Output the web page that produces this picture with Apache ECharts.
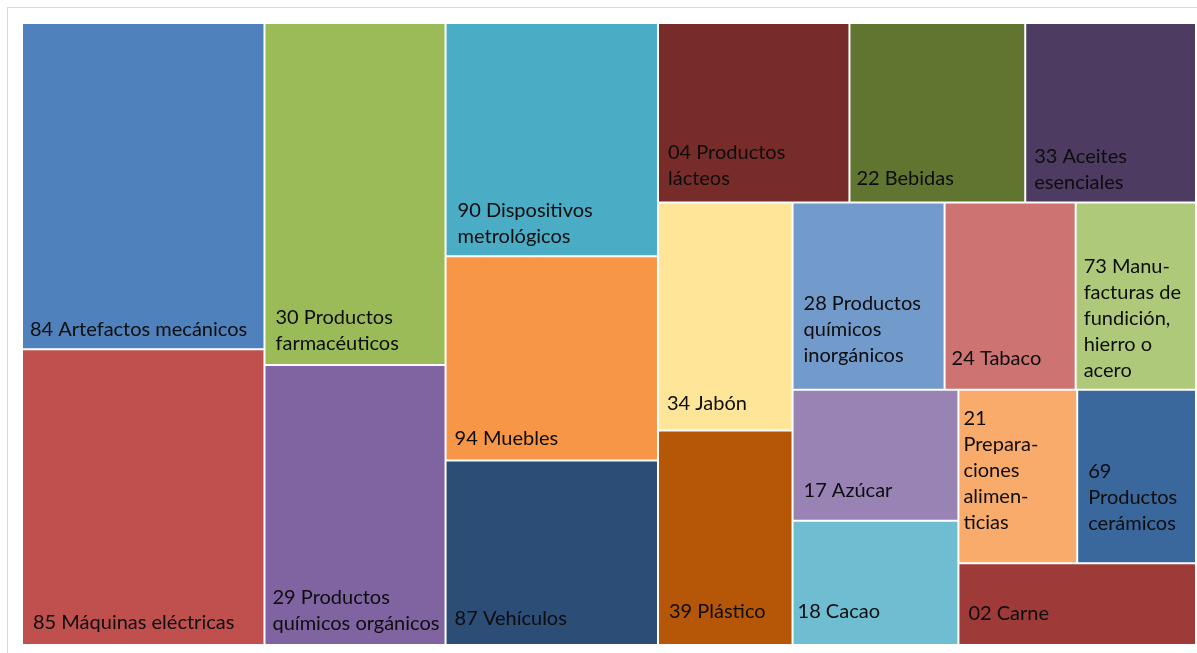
<!DOCTYPE html>
<html>
<head>
<meta charset="utf-8">
<script src="https://cdn.jsdelivr.net/npm/echarts@6/dist/echarts.min.js"></script>
<style>
  html, body { margin: 0; padding: 0; background: #fff; overflow: hidden; }
  #frame { position: absolute; left: 7px; top: 7px; width: 1300px; height: 700px; border: 1px solid #d9d9d9; }
  #chart { position: absolute; left: 0; top: 0; width: 1197px; height: 653px; }
</style>
</head>
<body>
<div id="frame"></div>
<div id="chart"></div>
<script>
// categories (label text wrapped as in the original)
const labels = [
  '84 Artefactos mecánicos',
  '85 Máquinas eléctricas',
  '30 Productos\nfarmacéuticos',
  '29 Productos\nquímicos orgánicos',
  '90 Dispositivos\nmetrológicos',
  '94 Muebles',
  '87 Vehículos',
  '04 Productos\nlácteos',
  '22 Bebidas',
  '33 Aceites\nesenciales',
  '34 Jabón',
  '39 Plástico',
  '28 Productos\nquímicos\ninorgánicos',
  '24 Tabaco',
  '73 Manu-\nfacturas de\nfundición,\nhierro o\nacero',
  '17 Azúcar',
  '18 Cacao',
  '21\nPrepara-\nciones\nalimen-\nticias',
  '69\nProductos\ncerámicos',
  '02 Carne'
];
// relative size of each tile
const values = [787, 713, 616, 504, 493, 431, 390, 342, 314, 305,
                305, 287, 283, 244, 224, 216, 205, 205, 205, 193];
// how the tiles are grouped in strips (indexes into labels)
const rows = [[0, 1], [2, 3], [4, 5, 6], [7, 8, 9], [10, 11], [12, 13, 14], [15, 16], [17, 18], [19]];

const colors = ['#4F81BD', '#C0504D', '#9BBB59', '#8064A2', '#4BACC6', '#F79646', '#2C4D75',
                '#772C2A', '#5F7530', '#4D3B62', '#FFE597', '#B65708', '#729ACA', '#CD7371',
                '#AFC97A', '#9983B5', '#6FBDD1', '#F9AB6B', '#3A679C', '#9E3B38'];
// label placement inside each tile: left padding, gap from tile bottom to last baseline
const labelLeft = [7, 10, 10, 7, 11, 8, 8, 9, 6, 8, 8, 10, 10, 6, 7, 10, 4, 4, 10, 9];
const labelBottom = [12, 14, 14, 13, 12, 14, 18, 16, 16, 12, 19, 25, 26, 23, 11, 22, 25, 33, 32, 23];

const fontFamily = 'Lato';
const fontSize = 20;
const lineHeight = 26;

function leaf(i) {
  return {
    name: labels[i],
    value: values[i],
    itemStyle: { color: colors[i], borderWidth: 1, borderColor: '#fff' }
  };
}
function rowNode(r) {
  return { name: 'row' + r, children: rows[r].map(leaf) };
}
function nest(r) {
  const last = rows.length - 1;
  return {
    name: 'rest' + r,
    children: [rowNode(r), r + 1 === last ? rowNode(last) : nest(r + 1)]
  };
}

const chart = echarts.init(document.getElementById('chart'));
chart.setOption({
  animation: false,
  series: [{
    type: 'treemap',
    left: 22,
    top: 23,
    width: 1174,
    height: 622,
    sort: false,
    squareRatio: 1,
    roam: false,
    nodeClick: false,
    breadcrumb: { show: false },
    label: { show: false },
    upperLabel: { show: false },
    itemStyle: { borderWidth: 0, gapWidth: 0, borderColor: '#fff' },
    emphasis: { disabled: true },
    data: nest(0).children
  }]
});

// labels sit at the bottom-left of each tile, placed from the treemap's own layout
const model = chart.getModel().getSeriesByIndex(0);
const tree = model.getData().tree;
const box = model.layoutInfo || { x: 22, y: 23 };
const texts = [];
tree.root.eachNode(function (node) {
  if (node.children && node.children.length) return;
  const i = labels.indexOf(node.name);
  if (i < 0) return;
  let x = 0, y = 0, n = node;
  while (n) {
    const l = n.getLayout();
    if (l) { x += l.x || 0; y += l.y || 0; }
    n = n.parentNode;
  }
  const lay = node.getLayout();
  texts.push({
    type: 'text',
    silent: true,
    z: 100,
    x: box.x + x + 1 + labelLeft[i],
    y: box.y + y + lay.height - 1 - labelBottom[i] + 6,
    style: {
      text: labels[i],
      fill: '#0d0d0d',
      fontFamily: fontFamily,
      fontSize: fontSize,
      lineHeight: lineHeight,
      align: 'left',
      verticalAlign: 'bottom'
    }
  });
});
chart.setOption({ graphic: texts });
</script>
</body>
</html>
